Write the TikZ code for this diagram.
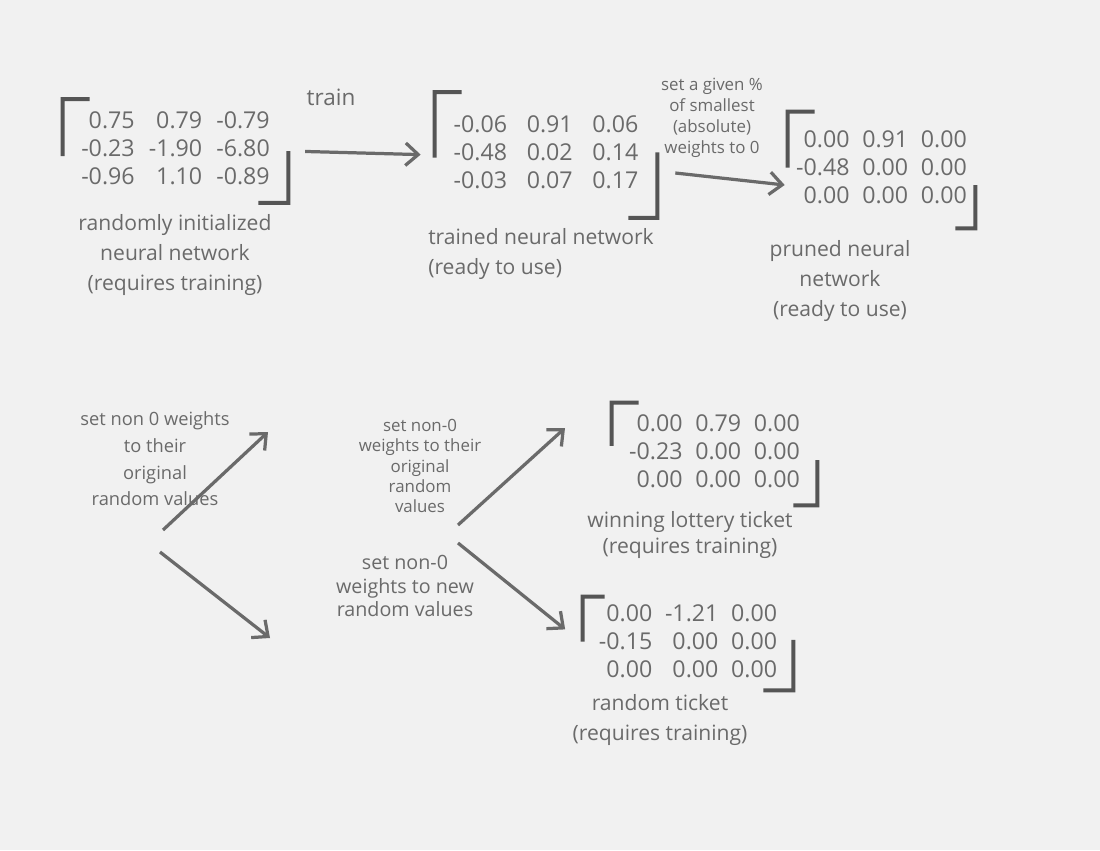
\documentclass[tikz,border=0pt]{standalone}
\usepackage{fontspec}
\setmainfont{Open Sans}
\usetikzlibrary{arrows.meta,calc}
\definecolor{paper}{HTML}{F1F1F1}
\definecolor{pencil}{HTML}{6A6A6A}
\definecolor{lead}{HTML}{555555}
\begin{document}
\begin{tikzpicture}[x=0.025cm, y=0.025cm]
\tikzstyle{every node}+=[inner sep=0pt, text=pencil]
\tikzstyle{mat}=[font=\fontsize{16.5}{20}\selectfont]
\tikzstyle{caption}=[font=\fontsize{15}{21}\selectfont, align=center]
\tikzstyle{note}=[font=\fontsize{12}{15}\selectfont, align=center]
\tikzstyle{brk}=[lead, line width=2.8pt]
\tikzstyle{arr}=[pencil, line width=2.3pt, -{Straight Barb[length=9pt,width=16pt]}]
\fill [paper] (0,0) rectangle (1100,-850);
% top row
\node [mat, minimum width=5.625cm, minimum height=2.575cm] (m1) at (175.5,-151)
  {\begin{tabular}{@{}r@{\hspace{10pt}}r@{\hspace{10pt}}r@{}}0.75 & 0.79 & -0.79\\ -0.23 & -1.90 & -6.80\\ -0.96 & 1.10 & -0.89\end{tabular}};
\draw [brk] ($(m1.north west)!0.55!(m1.south west)$) -- (m1.north west) -- ++(27,0);
\draw [brk] ($(m1.north east)!0.5!(m1.south east)$) -- (m1.south east) -- ++(-30,0);
\node [caption] (c1) at (175,-255) {randomly initialized\\neural network\\(requires training)};
\node [mat, minimum width=5.55cm, minimum height=3.125cm] (m2) at (546,-155)
  {\begin{tabular}{@{}r@{\hspace{14pt}}r@{\hspace{14pt}}r@{}}-0.06 & 0.91 & 0.06\\ -0.48 & 0.02 & 0.14\\ -0.03 & 0.07 & 0.17\end{tabular}};
\draw [brk] ($(m2.north west)!0.52!(m2.south west)$) -- (m2.north west) -- ++(27,0);
\draw [brk] ($(m2.north east)!0.48!(m2.south east)$) -- (m2.south east) -- ++(-29,0);
\node [caption, align=left, anchor=west] (c2) at (428,-254) {trained neural network\\(ready to use)};
\node [mat, minimum width=4.675cm, minimum height=2.9cm] (m3) at (881.5,-170)
  {\begin{tabular}{@{}r@{\hspace{9pt}}r@{\hspace{9pt}}r@{}}0.00 & 0.91 & 0.00\\ -0.48 & 0.00 & 0.00\\ 0.00 & 0.00 & 0.00\end{tabular}};
\draw [brk] ($(m3.north west)!0.48!(m3.south west)$) -- (m3.north west) -- ++(27,0);
\draw [brk] ($(m3.north east)!0.63!(m3.south east)$) -- (m3.south east) -- ++(-20,0);
\node [caption] (c3) at (840,-281) {pruned neural\\network\\(ready to use)};
\draw [arr, shorten <=12pt, shorten >=10pt] (m1.east) -- (m2.west);
\node [caption, font=\fontsize{16}{20}\selectfont] (ltrain) at (331,-97) {train};
\draw [arr] ($(m2.east)+(18,-18)$) -- ($(m3.west)+(-3,-15)$);
\node [note] (lprune) at (712,-118) {set a given \%\\of smallest\\(absolute)\\weights to 0};
% bottom half
\node [note, font=\fontsize{13}{19}\selectfont] (l1) at (155,-459) {set non 0 weights\\to their\\original\\random values};
\coordinate (s1) at (163,-530);
\coordinate (t1) at (268,-432);
\coordinate (s2) at (160,-552);
\coordinate (t2) at (270,-638);
\draw [arr] (s1) -- (t1);
\draw [arr] (s2) -- (t2);
\node [note, font=\fontsize{12}{14.5}\selectfont] (l2) at (420,-466) {set non-0\\weights to their\\original\\random\\values};
\node [note, font=\fontsize{14}{17}\selectfont] (l3) at (405,-586) {set non-0\\weights to new\\random values};
\node [mat, minimum width=5.125cm, minimum height=2.55cm] (m4) at (714.5,-454)
  {\begin{tabular}{@{}r@{\hspace{9pt}}r@{\hspace{9pt}}r@{}}0.00 & 0.79 & 0.00\\ -0.23 & 0.00 & 0.00\\ 0.00 & 0.00 & 0.00\end{tabular}};
\draw [brk] ($(m4.north west)!0.42!(m4.south west)$) -- (m4.north west) -- ++(27,0);
\draw [brk] ($(m4.north east)!0.56!(m4.south east)$) -- (m4.south east) -- ++(-24,0);
\node [caption, font=\fontsize{15}{18}\selectfont] (c4) at (690,-535) {winning lottery ticket\\(requires training)};
\node [mat, minimum width=5.25cm, minimum height=2.325cm] (m5) at (688,-643.5)
  {\begin{tabular}{@{}r@{\hspace{9pt}}r@{\hspace{9pt}}r@{}}0.00 & -1.21 & 0.00\\ -0.15 & 0.00 & 0.00\\ 0.00 & 0.00 & 0.00\end{tabular}};
\draw [brk] ($(m5.north west)!0.48!(m5.south west)$) -- (m5.north west) -- ++(22,0);
\draw [brk] ($(m5.north east)!0.46!(m5.south east)$) -- (m5.south east) -- ++(-30,0);
\node [caption] (c5) at (660,-720) {random ticket\\(requires training)};
\coordinate (s3) at (458,-525);
\coordinate (t3) at (565,-428);
\coordinate (s4) at (458,-543);
\draw [arr] (s3) -- (t3);
\draw [arr, shorten >=16pt] (s4) -- (m5.west);
\end{tikzpicture}
\end{document}
